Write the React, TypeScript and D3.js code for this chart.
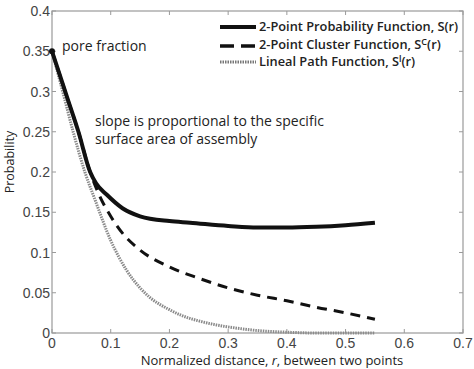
import React from 'react';
import * as d3 from 'd3';

const rProb = [0, 0.027, 0.045, 0.065, 0.075, 0.093, 0.12, 0.15, 0.2, 0.235, 0.3, 0.35, 0.4, 0.45, 0.5, 0.55];
const sProb = [0.35, 0.29, 0.25, 0.2, 0.186, 0.172, 0.155, 0.145, 0.139, 0.137, 0.133, 0.131, 0.131, 0.132, 0.134, 0.137];

const rClus = [0, 0.027, 0.045, 0.065, 0.08, 0.1, 0.12, 0.15, 0.2, 0.25, 0.3, 0.35, 0.4, 0.45, 0.5, 0.55];
const sClus = [0.35, 0.29, 0.25, 0.2, 0.172, 0.145, 0.124, 0.103, 0.082, 0.068, 0.056, 0.047, 0.04, 0.032, 0.025, 0.017];

const rLin = [0, 0.02, 0.036, 0.056, 0.073, 0.1, 0.127, 0.15, 0.167, 0.2, 0.22, 0.25, 0.28, 0.315, 0.35, 0.4, 0.45, 0.5, 0.55];
const sLin = [0.35, 0.295, 0.25, 0.2, 0.166, 0.115, 0.078, 0.056, 0.044, 0.029, 0.022, 0.015, 0.01, 0.006, 0.003, 0.001, 0, 0, 0];

const xTicks = [0, 0.1, 0.2, 0.3, 0.4, 0.5, 0.6, 0.7];
const yTicks = [0, 0.05, 0.1, 0.15, 0.2, 0.25, 0.3, 0.35, 0.4];

const W = 474;
const H = 369;
const m = { left: 52, right: 11, top: 11, bottom: 36 };

const sans = '"Open Sans", sans-serif';
const tickFont = '"Liberation Sans", Arial, sans-serif';

export default function App() {
  const x = d3.scaleLinear().domain([0, 0.7]).range([m.left, W - m.right]);
  const y = d3.scaleLinear().domain([0, 0.4]).range([H - m.bottom, m.top]);

  const line = d3.line<[number, number]>()
    .x(d => x(d[0]))
    .y(d => y(d[1]))
    .curve(d3.curveMonotoneX);

  const zip = (a: number[], b: number[]) => a.map((v, i) => [v, b[i]] as [number, number]);

  const x0 = x(0), x1 = x(0.7), y0 = y(0), y1 = y(0.4);

  return (
    <div style={{ position: 'absolute', left: 0, top: 0 }}>
      <svg width={W} height={H} style={{ display: 'block', background: '#fff' }}>
        {/* frame */}
        <rect x={x0} y={y1} width={x1 - x0} height={y0 - y1} fill="none" stroke="#9a9a9a" strokeWidth={1.2} />

        {/* ticks */}
        {xTicks.map((t, i) => (
          <g key={'x' + i}>
            <line x1={x(t)} x2={x(t)} y1={y0} y2={y0 - 4} stroke="#9a9a9a" />
            <line x1={x(t)} x2={x(t)} y1={y1} y2={y1 + 4} stroke="#9a9a9a" />
            <text x={x(t)} y={y0 + 15} textAnchor="middle" fontFamily={tickFont} fontSize={14} fill="#444">{t}</text>
          </g>
        ))}
        {yTicks.map((t, i) => (
          <g key={'y' + i}>
            <line x1={x0} x2={x0 + 4} y1={y(t)} y2={y(t)} stroke="#9a9a9a" />
            <line x1={x1} x2={x1 - 4} y1={y(t)} y2={y(t)} stroke="#9a9a9a" />
            <text x={x0 - 2} y={y(t) + 5} textAnchor="end" fontFamily={tickFont} fontSize={14} fill="#444">{t}</text>
          </g>
        ))}

        {/* axis labels */}
        <text x={272} y={365} textAnchor="middle" fontFamily={sans} fontSize={13} fill="#222">
          Normalized distance, <tspan fontStyle="italic">r</tspan>, between two points
        </text>
        <text transform={`translate(14,${162}) rotate(-90)`} textAnchor="middle" fontFamily={sans} fontSize={12.5} fill="#222">Probability</text>

        {/* series */}
        <path d={line(zip(rLin, sLin)) || ''} fill="none" stroke="#8a8a8a" strokeWidth={3} strokeDasharray="1.5 1" />
        <path d={line(zip(rClus, sClus)) || ''} fill="none" stroke="#111" strokeWidth={3} strokeDasharray="10 7" />
        <path d={line(zip(rProb, sProb)) || ''} fill="none" stroke="#111" strokeWidth={4} />
        <circle cx={x(0)} cy={y(0.35)} r={3} fill="#111" />

        {/* annotations */}
        <text x={62} y={51} fontFamily={sans} fontSize={14} fill="#222">pore fraction</text>
        <text x={95} y={126} fontFamily={sans} fontSize={14} fill="#222">slope is proportional to the specific</text>
        <text x={95} y={144} fontFamily={sans} fontSize={14} fill="#222">surface area of assembly</text>

        {/* legend */}
        <g fontFamily={sans} fontSize={12.8} fontWeight={600} fill="#222">
          <line x1={220} x2={256} y1={27} y2={27} stroke="#111" strokeWidth={4} />
          <text x={259} y={30.5}>2-Point Probability Function, S(r)</text>
          <line x1={220} x2={256} y1={46} y2={46} stroke="#111" strokeWidth={3.5} strokeDasharray="14 7" />
          <text x={259} y={49}>2-Point Cluster Function, S<tspan baselineShift="40%" fontSize={9}>C</tspan>(r)</text>
          <line x1={220} x2={256} y1={62} y2={62} stroke="#777" strokeWidth={3} strokeDasharray="1.5 1" />
          <text x={259} y={66}>Lineal Path Function, S<tspan baselineShift="40%" fontSize={9}>l</tspan>(r)</text>
        </g>
      </svg>
    </div>
  );
}
